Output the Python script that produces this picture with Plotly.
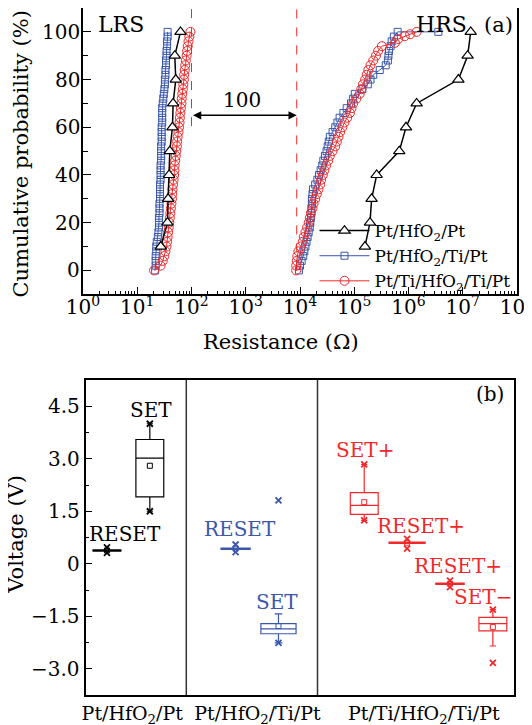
import math
import plotly.graph_objects as go

FONT = "DejaVu Serif"
BLACK = "#000000"
BLUE = "#3a57ac"
RED = "#f0282a"

# ---------------- (a) cumulative probability data ----------------
cum_prob = [0, 2, 4, 6, 8, 10, 12, 14, 16, 18, 20, 22, 24, 26, 28, 30, 32, 34, 36, 38,
            40, 42, 44, 46, 48, 50, 52, 54, 56, 58, 60, 62, 64, 66, 68, 70, 72, 74, 76, 78,
            80, 82, 84, 86, 88, 90, 92, 94, 96, 98, 100]
tri_prob = [10, 20, 30, 40, 50, 60, 70, 80, 90, 100]
prob_ticks = [0, 20, 40, 60, 80, 100]

# log10(Resistance / Ohm)
lrs_black_log10R = [1.434, 1.557, 1.569, 1.587, 1.600, 1.649, 1.661, 1.710, 1.692, 1.797]
hrs_black_log10R = [5.197, 5.290, 5.320, 5.413, 5.830, 5.954, 6.150, 6.920, 7.090, 7.147]

lrs_blue_log10R = [1.33, 1.34, 1.34, 1.34, 1.35, 1.35, 1.36, 1.38, 1.39, 1.40, 1.40, 1.40, 1.41,
                   1.41, 1.41, 1.42, 1.42, 1.42, 1.42, 1.43, 1.43, 1.43, 1.43, 1.44, 1.44, 1.44,
                   1.44, 1.45, 1.45, 1.45, 1.45, 1.46, 1.46, 1.46, 1.46, 1.47, 1.48, 1.49, 1.50,
                   1.51, 1.51, 1.52, 1.52, 1.53, 1.53, 1.54, 1.54, 1.55, 1.55, 1.56, 1.56]
lrs_red_log10R = [1.31, 1.43, 1.47, 1.50, 1.52, 1.54, 1.55, 1.56, 1.57, 1.58, 1.59, 1.60, 1.61,
                  1.62, 1.63, 1.64, 1.645, 1.65, 1.66, 1.67, 1.68, 1.685, 1.69, 1.70, 1.71, 1.72,
                  1.73, 1.735, 1.745, 1.76, 1.77, 1.78, 1.785, 1.795, 1.805, 1.815, 1.82, 1.83,
                  1.84, 1.85, 1.86, 1.865, 1.875, 1.885, 1.895, 1.91, 1.92, 1.93, 1.945, 1.96, 1.98]

hrs_blue_prob = cum_prob + [100]
hrs_blue_log10R = [3.98, 4.00, 4.03, 4.06, 4.08, 4.10, 4.12, 4.14, 4.16, 4.18, 4.19, 4.20, 4.21,
                   4.21, 4.22, 4.22, 4.23, 4.24, 4.28, 4.32, 4.35, 4.38, 4.41, 4.43, 4.46, 4.49,
                   4.51, 4.53, 4.55, 4.60, 4.65, 4.69, 4.73, 4.80, 4.86, 4.94, 4.98, 5.01, 5.15,
                   5.25, 5.30, 5.35, 5.47, 5.58, 5.62, 5.63, 5.64, 5.67, 5.69, 5.73, 5.80, 6.55]

hrs_red_prob = [0, 2, 4, 6, 8, 10, 12, 14, 16, 18, 20, 22, 24, 26, 28, 30, 32, 34, 36, 38,
                40, 42, 44, 46, 48, 50, 52, 54, 56, 58, 60, 62, 64, 66, 68, 70, 72, 74, 76, 78,
                80, 82, 84, 86, 88, 90, 92, 94, 95.4, 97, 98.2, 99, 100]
hrs_red_log10R = [3.93, 3.93, 3.94, 3.95, 3.97, 4.01, 4.05, 4.07, 4.10, 4.13, 4.16, 4.18, 4.20,
                  4.23, 4.25, 4.28, 4.31, 4.34, 4.37, 4.39, 4.42, 4.45, 4.48, 4.52, 4.55, 4.60,
                  4.65, 4.68, 4.71, 4.74, 4.78, 4.82, 4.87, 4.92, 4.95, 4.98, 5.04, 5.10, 5.13,
                  5.16, 5.20, 5.23, 5.26, 5.30, 5.35, 5.40, 5.44, 5.51, 5.75, 5.81, 5.93, 6.03, 6.15]

window_R = [100, 8700]          # dashed boundaries (Ohm)
window_label = "100"

legend_names = ["Pt/HfO<sub>2</sub>/Pt", "Pt/HfO<sub>2</sub>/Ti/Pt", "Pt/Ti/HfO<sub>2</sub>/Ti/Pt"]

# ---------------- (b) voltage box data ----------------
box_pos = [0.5, 1.5, 3.5, 4.5, 6.5, 7.5, 8.5, 9.5]
box_labels = ["RESET", "SET", "RESET", "SET", "SET+", "RESET+", "RESET+", "SET\u2212"]
box_q1 = [0.36, 1.91, 0.41, -2.00, 1.41, 0.58, -0.59, -1.92]
box_median = [0.38, 3.02, 0.43, -1.86, 1.67, 0.60, -0.57, -1.71]
box_q3 = [0.40, 3.55, 0.45, -1.71, 2.03, 0.62, -0.55, -1.53]
box_low = [0.36, 1.50, 0.41, -2.26, 1.24, 0.58, -0.59, -2.35]
box_high = [0.40, 4.00, 0.45, -1.43, 2.84, 0.62, -0.55, -1.31]
box_mean = [0.38, 2.80, 0.43, -1.78, 1.76, 0.60, -0.57, -1.81]
box_min = [0.31, 1.50, 0.33, -2.26, 1.24, 0.43, -0.67, -2.83]
box_max = [0.47, 4.00, 0.55, 1.81, 2.84, 0.71, -0.48, -1.31]
box_widths = [0.65, 0.65, 0.68, 0.82, 0.65, 0.84, 0.66, 0.65]
box_colors = [BLACK, BLACK, BLUE, BLUE, RED, RED, RED, RED]
device_names = ["Pt/HfO<sub>2</sub>/Pt", "Pt/HfO<sub>2</sub>/Ti/Pt", "Pt/Ti/HfO<sub>2</sub>/Ti/Pt"]
device_centers = [1.09, 4.01, 7.89]
device_separators = [2.35, 5.41]

v_ticks = [-3.0, -1.5, 0.0, 1.5, 3.0, 4.5]
v_ticktext = ["\u22123.0", "\u22121.5", "0", "1.5", "3.0", "4.5"]


def to_R(logs):
    return [10 ** v for v in logs]


fig = go.Figure()

# ---- panel (a) ----
fig.add_trace(go.Scatter(x=window_R[:1] * 2, y=[60.5, 110], mode="lines", showlegend=False,
                         line=dict(color=RED, width=1, dash="dash"), xaxis="x", yaxis="y"))
fig.add_trace(go.Scatter(x=window_R[1:] * 2, y=[0, 110], mode="lines", showlegend=False,
                         line=dict(color=RED, width=1, dash="dash"), xaxis="x", yaxis="y"))

series = [
    ("blue", lrs_blue_log10R, cum_prob, hrs_blue_log10R, hrs_blue_prob, BLUE, "square-open", 7, 1, legend_names[1], 2),
    ("red", lrs_red_log10R, cum_prob, hrs_red_log10R, hrs_red_prob, RED, "circle-open", 9, 1, legend_names[2], 3),
    ("black", lrs_black_log10R, tri_prob, hrs_black_log10R, tri_prob, BLACK, "triangle-up", 10, 1.5, legend_names[0], 1),
]
for key, lx, ly, hx, hy, col, sym, sz, lw, name, rank in series:
    if sym == "triangle-up":
        marker = dict(symbol=sym, size=sz, color="white", line=dict(color=col, width=1.2))
    else:
        marker = dict(symbol=sym, size=sz, color=col, line=dict(color=col, width=1))
    fig.add_trace(go.Scatter(x=to_R(lx), y=ly, mode="lines+markers", name=name, legendgroup=key,
                             legendrank=rank, marker=marker, line=dict(color=col, width=lw),
                             xaxis="x", yaxis="y"))
    fig.add_trace(go.Scatter(x=to_R(hx), y=hy, mode="lines+markers", name=name, legendgroup=key,
                             showlegend=False, marker=marker, line=dict(color=col, width=lw),
                             xaxis="x", yaxis="y"))

# ---- panel (b) ----
for i in range(len(box_pos)):
    c = box_colors[i]
    fig.add_trace(go.Box(x=[box_pos[i]], q1=[box_q1[i]], median=[box_median[i]], q3=[box_q3[i]],
                         lowerfence=[box_low[i]], upperfence=[box_high[i]], width=box_widths[i],
                         orientation="v", boxpoints=False, whiskerwidth=0.22,
                         line=dict(color=c, width=1.2), fillcolor="rgba(0,0,0,0)",
                         showlegend=False, xaxis="x2", yaxis="y2", hoverinfo="skip"))
    fig.add_trace(go.Scatter(x=[box_pos[i], box_pos[i]], y=[box_min[i], box_max[i]], mode="markers",
                             marker=dict(symbol="x-thin-open", size=6, color=c, line=dict(color=c, width=1.8)),
                             showlegend=False, xaxis="x2", yaxis="y2"))
    fig.add_trace(go.Scatter(x=[box_pos[i]], y=[box_mean[i]], mode="markers",
                             marker=dict(symbol="square-open", size=5, color=c, line=dict(color=c, width=1)),
                             showlegend=False, xaxis="x2", yaxis="y2"))

# minor log ticks
minor_vals = [m * 10 ** k for k in range(8) for m in range(2, 10)]

axis_common = dict(showline=True, mirror=True, linecolor=BLACK, linewidth=1.5, showgrid=False,
                   zeroline=False, automargin=False)
num_font = dict(family=FONT, size=20, color=BLACK)

fig.update_layout(
    width=532, height=725,
    margin=dict(l=75, r=23, t=0, b=38, autoexpand=False),
    paper_bgcolor="white", plot_bgcolor="white",
    font=dict(family=FONT, size=19, color=BLACK),
    hovermode=False,
    showlegend=True,
    legend=dict(x=0.5334, y=0.7015, xanchor="left", yanchor="top", bgcolor="rgba(0,0,0,0)",
                font=dict(family=FONT, size=17, color=BLACK), tracegroupgap=0, itemwidth=50),
    xaxis=dict(type="log", range=[0, 8], domain=[0, 1], anchor="y",
               tickvals=[10 ** k for k in range(9)],
               ticktext=["10<sup>%d</sup>" % k for k in range(9)],
               ticks="inside", ticklen=8, tickwidth=1.2, tickcolor=BLACK, tickfont=num_font,
               ticklabelstandoff=-6,
               minor=dict(tickvals=minor_vals, ticks="inside", ticklen=4, tickwidth=1, tickcolor=BLACK),
               **axis_common),
    yaxis=dict(range=[-10, 110], domain=[0.5833, 1], anchor="x",
               tickvals=prob_ticks, showticklabels=False, ticks="inside", ticklen=8, tickwidth=1.2,
               tickcolor=BLACK,
               minor=dict(dtick=10, tick0=0, ticks="inside", ticklen=5, tickwidth=1, tickcolor=BLACK),
               **axis_common),
    xaxis2=dict(range=[0, 10], domain=[0.0058, 0.9938], anchor="y2",
                tickvals=device_centers, ticktext=device_names, ticks="",
                tickfont=dict(family=FONT, size=19, color=BLACK),
                **axis_common),
    yaxis2=dict(range=[-3.75, 5.25], domain=[0, 0.4585], anchor="x2",
                tickvals=v_ticks, showticklabels=False, ticks="inside", ticklen=7, tickwidth=1.2,
                tickcolor=BLACK,
                minor=dict(dtick=0.75, tick0=0, ticks="inside", ticklen=4, tickwidth=1, tickcolor=BLACK),
                **axis_common),
)

# separators in panel (b)
for xs in device_separators:
    fig.add_shape(type="line", xref="x2", yref="y2 domain", x0=xs, x1=xs, y0=0, y1=1,
                  line=dict(color="#333333", width=1.5))

ann = []
C = dict(xanchor="center", yanchor="middle", showarrow=False)
# y tick labels (placed next to the axis line)
for v in prob_ticks:
    ann.append(dict(text=str(v), xref="x domain", yref="y", x=0, y=v, xanchor="right",
                    yanchor="middle", xshift=-1, showarrow=False, font=num_font))
for v, t in zip(v_ticks, v_ticktext):
    ann.append(dict(text=t, xref="x2 domain", yref="y2", x=0, y=v, xanchor="right",
                    yanchor="middle", xshift=-4, showarrow=False, font=num_font))
# axis titles
ann.append(dict(text="Cumulative probability (%)", xref="paper", yref="paper", x=-0.144, y=0.7875,
                textangle=-90, font=dict(size=21), **C))
ann.append(dict(text="Resistance (\u03a9)", xref="paper", yref="paper", x=0.4562, y=0.5143,
                font=dict(size=21), **C))
ann.append(dict(text="Voltage (V)", xref="paper", yref="paper", x=-0.1562, y=0.2336,
                textangle=-90, font=dict(size=21), **C))
# panel (a) texts
ann.append(dict(text="LRS", xref="x", yref="y", x=0.70, y=103, font=dict(size=22), **C))
ann.append(dict(text="HRS", xref="x", yref="y", x=6.61, y=103, font=dict(size=22), **C))
ann.append(dict(text="(a)", xref="x", yref="y", x=7.65, y=103, font=dict(size=21), **C))
ann.append(dict(text=window_label, xref="x", yref="y", x=2.93, y=71.6, font=dict(size=20), **C))
ann.append(dict(text="", xref="x", yref="y", axref="x", ayref="y",
                x=math.log10(window_R[1]), y=65, ax=math.log10(window_R[0]), ay=65,
                showarrow=True, arrowhead=2, arrowside="end+start", arrowsize=1.1, arrowwidth=1.5,
                arrowcolor=BLACK, standoff=0, startstandoff=0))
# panel (b) texts
label_xy = [(0.92, 0.85), (1.52, 4.38), (3.60, 0.98), (4.47, -1.10),
            (6.52, 3.26), (7.82, 1.09), (8.68, -0.07), (9.27, -0.96)]
for i, (lx, ly) in enumerate(label_xy):
    ann.append(dict(text=box_labels[i], xref="x2", yref="y2", x=lx, y=ly,
                    font=dict(size=20, color=box_colors[i]), **C))
ann.append(dict(text="(b)", xref="x2", yref="y2", x=9.43, y=4.84, font=dict(size=20), **C))

fig.update_layout(annotations=ann)

fig.write_html("out.html")
